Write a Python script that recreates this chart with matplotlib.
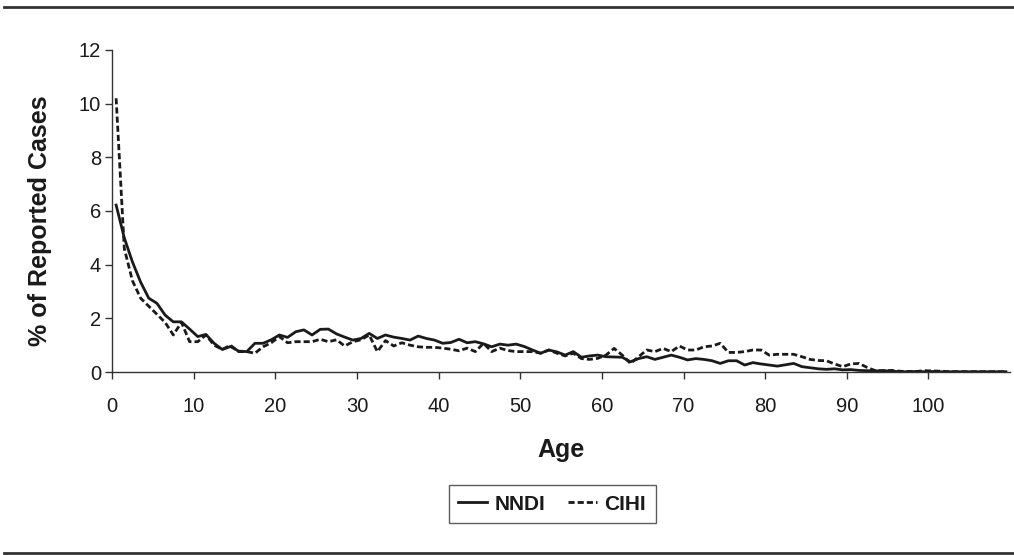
import matplotlib
matplotlib.use("Agg")
import matplotlib.pyplot as plt
from matplotlib.lines import Line2D
import numpy as np

plt.rcParams['font.family'] = ['Liberation Sans', 'DejaVu Sans']

ages = list(range(0, 110))
nndi = [6.22, 5.0, 4.1, 3.35, 2.75, 2.56, 2.12, 1.87, 1.87, 1.6,
        1.32, 1.4, 1.07, 0.84, 0.95, 0.78, 0.76, 1.07, 1.07, 1.2,
        1.38, 1.29, 1.5, 1.57, 1.38, 1.59, 1.6, 1.42, 1.3, 1.19,
        1.25, 1.44, 1.25, 1.38, 1.3, 1.25, 1.19, 1.34, 1.25, 1.19,
        1.07, 1.1, 1.22, 1.09, 1.13, 1.05, 0.94, 1.04, 1.0, 1.04,
        0.95, 0.82, 0.7, 0.82, 0.75, 0.63, 0.76, 0.55, 0.6, 0.63,
        0.57, 0.56, 0.55, 0.38, 0.5, 0.57, 0.47, 0.55, 0.63, 0.55,
        0.45, 0.5, 0.47, 0.42, 0.32, 0.42, 0.42, 0.26, 0.35, 0.3,
        0.26, 0.22, 0.27, 0.32, 0.2, 0.16, 0.12, 0.1, 0.12, 0.08,
        0.09, 0.06, 0.05, 0.04, 0.05, 0.03, 0.01, 0.01, 0.02, 0.01,
        0.02, 0.01, 0.01, 0.01, 0.01, 0.01, 0.01, 0.01, 0.01, 0.01]
cihi = [10.2, 4.6, 3.4, 2.75, 2.45, 2.15, 1.85, 1.38, 1.85, 1.13,
        1.13, 1.38, 1.0, 0.84, 1.0, 0.76, 0.76, 0.7, 0.94, 1.09,
        1.32, 1.09, 1.13, 1.13, 1.13, 1.22, 1.13, 1.2, 0.97, 1.13,
        1.2, 1.38, 0.76, 1.17, 0.97, 1.09, 1.0, 0.94, 0.92, 0.92,
        0.89, 0.85, 0.79, 0.89, 0.76, 1.07, 0.76, 0.89, 0.8, 0.76,
        0.76, 0.76, 0.7, 0.82, 0.7, 0.6, 0.7, 0.5, 0.47, 0.51,
        0.63, 0.88, 0.63, 0.32, 0.57, 0.82, 0.76, 0.88, 0.76, 0.97,
        0.82, 0.82, 0.94, 0.97, 1.07, 0.73, 0.73, 0.76, 0.82, 0.82,
        0.63, 0.66, 0.66, 0.66, 0.57, 0.47, 0.43, 0.42, 0.3, 0.2,
        0.3, 0.32, 0.17, 0.05, 0.05, 0.06, 0.03, 0.02, 0.02, 0.05,
        0.04, 0.03, 0.01, 0.01, 0.01, 0.01, 0.01, 0.01, 0.01, 0.01]
xticks = [0, 10, 20, 30, 40, 50, 60, 70, 80, 90, 100]
yticks = [0, 2, 4, 6, 8, 10, 12]

fig = plt.figure(figsize=(10.14, 5.55), dpi=100)
ax = fig.add_axes([0.1105, 0.3297, 0.8856, 0.5803])

x = np.array(ages) + 0.5
col = '#1a1a1a'
dash = (2.2, 1.1)
ax.plot(x, nndi, color=col, lw=2.0, label='NNDI')
ax.plot(x, cihi, color=col, lw=2.0, dashes=dash, label='CIHI')

ax.set_xlim(0, 110)
ax.set_ylim(0, 12)
ax.set_xticks(xticks)
ax.set_yticks(yticks)
ax.tick_params(axis='both', direction='out', length=5, width=1, color='#333333',
               labelsize=14.5, labelcolor='#1a1a1a')
ax.tick_params(axis='x', pad=13)
ax.tick_params(axis='y', pad=3)
for s in ['top', 'right']:
    ax.spines[s].set_visible(False)
for s in ['left', 'bottom']:
    ax.spines[s].set_color('#333333')
    ax.spines[s].set_linewidth(1)

ax.set_xlabel('Age', fontsize=18, fontweight='bold', labelpad=16, color='#1a1a1a')
ax.set_ylabel('% of Reported Cases', fontsize=18, fontweight='bold', color='#1a1a1a')
ax.yaxis.set_label_coords(-0.067, 0.47)

handles = [Line2D([], [], color=col, lw=2.0),
           Line2D([], [], color=col, lw=2.0, dashes=dash)]
leg = ax.legend(handles, ['NNDI', 'CIHI'], loc='center', bbox_to_anchor=(0.49, -0.41),
                ncol=2, frameon=True, fancybox=False, edgecolor='#333333',
                prop={'weight': 'bold', 'size': 15}, handlelength=1.4,
                columnspacing=1.1, handletextpad=0.35, borderpad=0.45)
leg.get_frame().set_linewidth(1)
for t in leg.get_texts():
    t.set_color('#1a1a1a')

fig.add_artist(Line2D([0.004, 1.0], [1 - 7 / 555, 1 - 7 / 555], color='#333333', lw=2,
                      transform=fig.transFigure))
fig.add_artist(Line2D([0.004, 1.0], [1 - 553 / 555, 1 - 553 / 555], color='#333333', lw=2,
                      transform=fig.transFigure))

fig.savefig('out.png', dpi=100)
